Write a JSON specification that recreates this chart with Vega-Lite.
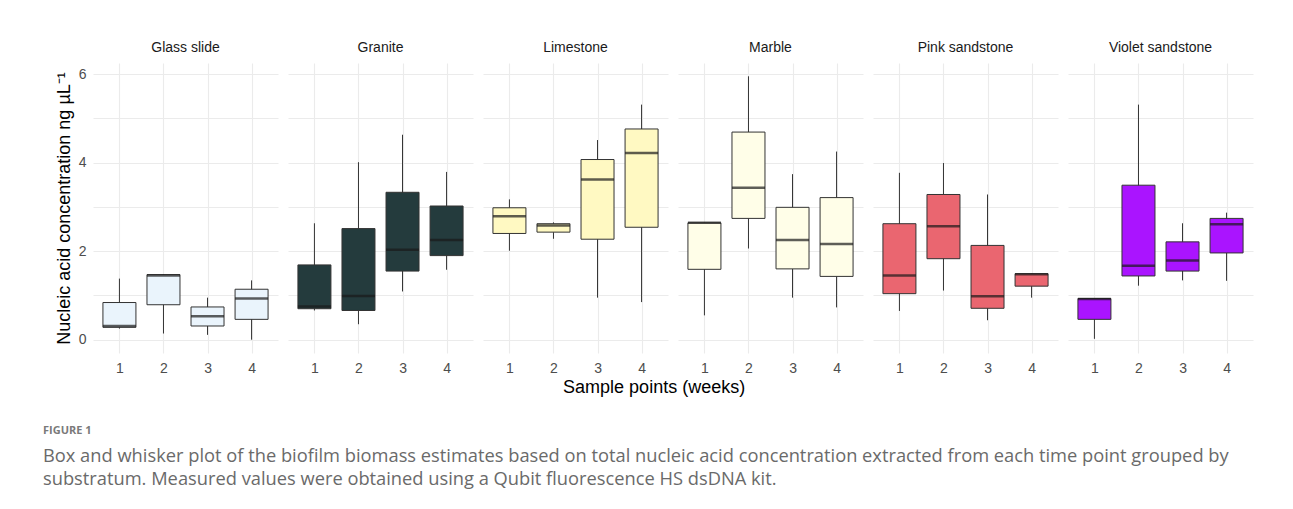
{
  "$schema": "https://vega.github.io/schema/vega-lite/v6.json",
  "background": "white",
  "padding": {"top": 41, "left": 43, "right": 5, "bottom": 5},
  "config": {
    "font": "Liberation Sans",
    "view": {"stroke": null},
    "axis": {"domain": false, "ticks": false, "gridColor": "#EBEBEB", "gridWidth": 1.1, "labelColor": "#4D4D4D", "labelFontSize": 14, "labelFont": "Liberation Sans", "titleFont": "Liberation Sans", "titleFontSize": 18, "titleFontWeight": "normal", "titleColor": "#000000"}
  },
  "vconcat": [
    {
      "data": {"values": [
        {"substratum": "Glass slide", "week": "1", "min": 0.25, "q1": 0.28, "median": 0.31, "q3": 0.84, "max": 1.38},
        {"substratum": "Glass slide", "week": "2", "min": 0.14, "q1": 0.79, "median": 1.45, "q3": 1.47, "max": 1.47},
        {"substratum": "Glass slide", "week": "3", "min": 0.11, "q1": 0.31, "median": 0.53, "q3": 0.74, "max": 0.95},
        {"substratum": "Glass slide", "week": "4", "min": 0.0, "q1": 0.46, "median": 0.93, "q3": 1.14, "max": 1.34},
        {"substratum": "Granite", "week": "1", "min": 0.66, "q1": 0.70, "median": 0.75, "q3": 1.69, "max": 2.63},
        {"substratum": "Granite", "week": "2", "min": 0.35, "q1": 0.66, "median": 0.99, "q3": 2.51, "max": 4.01},
        {"substratum": "Granite", "week": "3", "min": 1.09, "q1": 1.55, "median": 2.03, "q3": 3.33, "max": 4.63},
        {"substratum": "Granite", "week": "4", "min": 1.58, "q1": 1.90, "median": 2.25, "q3": 3.02, "max": 3.79},
        {"substratum": "Limestone", "week": "1", "min": 2.01, "q1": 2.40, "median": 2.79, "q3": 2.98, "max": 3.17},
        {"substratum": "Limestone", "week": "2", "min": 2.28, "q1": 2.43, "median": 2.58, "q3": 2.62, "max": 2.65},
        {"substratum": "Limestone", "week": "3", "min": 0.95, "q1": 2.27, "median": 3.62, "q3": 4.07, "max": 4.51},
        {"substratum": "Limestone", "week": "4", "min": 0.85, "q1": 2.54, "median": 4.22, "q3": 4.76, "max": 5.31},
        {"substratum": "Marble", "week": "1", "min": 0.55, "q1": 1.59, "median": 2.64, "q3": 2.64, "max": 2.64},
        {"substratum": "Marble", "week": "2", "min": 2.06, "q1": 2.74, "median": 3.43, "q3": 4.69, "max": 5.95},
        {"substratum": "Marble", "week": "3", "min": 0.95, "q1": 1.60, "median": 2.25, "q3": 2.99, "max": 3.74},
        {"substratum": "Marble", "week": "4", "min": 0.73, "q1": 1.43, "median": 2.16, "q3": 3.21, "max": 4.25},
        {"substratum": "Pink sandstone", "week": "1", "min": 0.65, "q1": 1.04, "median": 1.45, "q3": 2.62, "max": 3.77},
        {"substratum": "Pink sandstone", "week": "2", "min": 1.11, "q1": 1.83, "median": 2.56, "q3": 3.28, "max": 3.99},
        {"substratum": "Pink sandstone", "week": "3", "min": 0.44, "q1": 0.71, "median": 0.98, "q3": 2.13, "max": 3.28},
        {"substratum": "Pink sandstone", "week": "4", "min": 0.95, "q1": 1.21, "median": 1.48, "q3": 1.49, "max": 1.49},
        {"substratum": "Violet sandstone", "week": "1", "min": 0.02, "q1": 0.46, "median": 0.92, "q3": 0.93, "max": 0.93},
        {"substratum": "Violet sandstone", "week": "2", "min": 1.22, "q1": 1.44, "median": 1.67, "q3": 3.49, "max": 5.31},
        {"substratum": "Violet sandstone", "week": "3", "min": 1.34, "q1": 1.55, "median": 1.79, "q3": 2.21, "max": 2.63},
        {"substratum": "Violet sandstone", "week": "4", "min": 1.33, "q1": 1.96, "median": 2.61, "q3": 2.74, "max": 2.87}
      ]},
      "facet": {
        "column": {
          "field": "substratum", "type": "nominal",
          "sort": ["Glass slide", "Granite", "Limestone", "Marble", "Pink sandstone", "Violet sandstone"],
          "header": {"title": null, "labelFontSize": 14, "labelColor": "#1A1A1A", "labelFont": "Liberation Sans", "labelPadding": 8}
        }
      },
      "spacing": {"column": 10},
      "title": {"text": "Sample points (weeks)", "orient": "bottom", "anchor": "middle", "fontSize": 18, "fontWeight": "normal", "color": "#000000", "font": "Liberation Sans", "offset": 4},
      "spec": {
        "width": 185,
        "height": 290,
        "encoding": {
          "x": {"field": "week", "type": "ordinal", "scale": {"type": "point", "padding": 0.6}, "axis": {"title": null, "labelAngle": 0, "labelPadding": 8, "grid": true}}
        },
        "layer": [
          {
            "mark": {"type": "rule", "color": "#333333", "strokeWidth": 1},
            "encoding": {
              "y": {"field": "min", "type": "quantitative", "scale": {"domain": [-0.3, 6.25], "nice": false, "zero": false}, "axis": {"title": "Nucleic acid concentration ng µL⁻¹", "values": [0, 1, 2, 3, 4, 5, 6], "labelExpr": "datum.value % 2 == 0 ? datum.label : ''", "labelPadding": 7, "titlePadding": 5}},
              "y2": {"field": "max"}
            }
          },
          {
            "mark": {"type": "bar", "size": 33, "stroke": "#333333", "strokeWidth": 1},
            "encoding": {
              "y": {"field": "q1", "type": "quantitative"},
              "y2": {"field": "q3"},
              "fill": {"field": "substratum", "type": "nominal", "legend": null, "scale": {"domain": ["Glass slide", "Granite", "Limestone", "Marble", "Pink sandstone", "Violet sandstone"], "range": ["#EAF4FC", "#243B3D", "#FFF9C2", "#FFFEE8", "#EA6670", "#AA14FF"]}}
            }
          },
          {
            "mark": {"type": "tick", "orient": "horizontal", "size": 33, "thickness": 2.5, "color": "#1A1A1A"},
            "encoding": {
              "y": {"field": "median", "type": "quantitative"}
            }
          }
        ]
      }
    },
    {
      "width": 1200,
      "height": 1,
      "data": {"values": [{}]},
      "mark": {"type": "point", "opacity": 0},
      "encoding": {},
      "title": {
        "text": "FIGURE 1",
        "subtitle": ["Box and whisker plot of the biofilm biomass estimates based on total nucleic acid concentration extracted from each time point grouped by", "substratum. Measured values were obtained using a Qubit fluorescence HS dsDNA kit."],
        "anchor": "start",
        "orient": "top",
        "font": "Open Sans",
        "fontSize": 11,
        "fontWeight": "bold",
        "color": "#7A7A7A",
        "subtitleFont": "Open Sans",
        "subtitleFontSize": 18.3,
        "subtitleColor": "#6A6A6A",
        "subtitleLineHeight": 23,
        "subtitlePadding": 12,
        "dx": -50
      }
    }
  ],
  "spacing": 28
}
